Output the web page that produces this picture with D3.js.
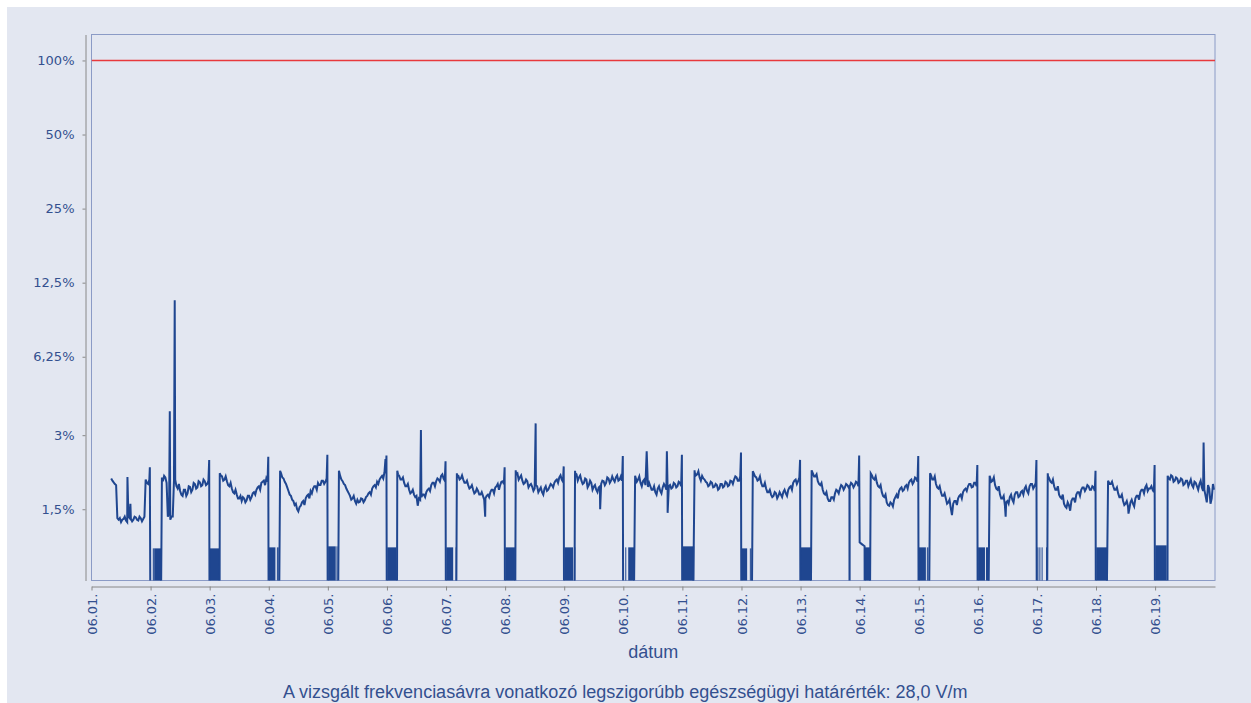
<!DOCTYPE html>
<html>
<head>
<meta charset="utf-8">
<script src="https://cdnjs.cloudflare.com/ajax/libs/d3/7.8.5/d3.min.js"></script>
<style>
  body { margin: 0; background: #fff; }
</style>
</head>
<body>
<div id="body"></div>
<script>
var year = 2015;
var dayLabels = ["06.01.", "06.02.", "06.03.", "06.04.", "06.05.", "06.06.", "06.07.", "06.08.", "06.09.", "06.10.",
  "06.11.", "06.12.", "06.13.", "06.14.", "06.15.", "06.16.", "06.17.", "06.18.", "06.19."];
var yTickValues = [100, 50, 25, 12.5, 6.25, 3, 1.5];
var yTickLabels = ["100%", "50%", "25%", "12,5%", "6,25%", "3%", "1,5%"];
var limitValue = 100;
var xTitle = "dátum";
var caption = "A vizsgált frekvenciasávra vonatkozó legszigorúbb egészségügyi határérték: 28,0 V/m";

// readings on the full hour, in % of the limit, one row per day (hour 0..23); null = no data, 0 = dropped out
var hourly = [
  [null, null, null, null, null, null, null, null, 2.00, 1.93, 1.88, 1.36, 1.33, 1.37, 1.35, 1.40, 1.37, 1.36, 1.39, 1.35, 1.38, 1.37, 1.98, 1.90],
  [0, 0, 0, 0, 0, 1.95, 2.02, 1.40, 1.36, 1.40, 1.98, 1.82, 1.78, 1.70, 1.80, 1.74, 1.85, 1.80, 1.90, 1.84, 1.93, 1.88, 1.95, 1.90],
  [0, 0, 0, 0, 0, 2.04, 1.98, 1.95, 1.86, 1.82, 1.74, 1.72, 1.66, 1.62, 1.66, 1.63, 1.70, 1.68, 1.76, 1.80, 1.86, 1.92, 1.96, 2.00],
  [0, 0, 0, 0, 0, 2.10, 2.00, 1.90, 1.78, 1.70, 1.62, 1.58, 1.47, 1.55, 1.62, 1.66, 1.72, 1.78, 1.82, 1.86, 1.92, 1.88, 1.96, 1.94],
  [0, 0, 0, 0, 0, 2.05, 1.95, 1.88, 1.78, 1.70, 1.66, 1.62, 1.64, 1.61, 1.65, 1.63, 1.70, 1.76, 1.82, 1.88, 1.94, 1.98, 2.05, 2.12],
  [0, 0, 0, 0, 0, 2.05, 1.98, 1.92, 1.86, 1.80, 1.76, 1.72, 1.70, 1.66, 1.68, 1.72, 1.76, 1.82, 1.88, 1.92, 1.95, 1.98, 2.05, 2.00],
  [0, 0, 0, 0, 0, 2.05, 2.00, 1.98, 1.92, 1.88, 1.84, 1.80, 1.76, 1.78, 1.72, 1.70, 1.66, 1.72, 1.76, 1.80, 1.84, 1.90, 1.88, 1.95],
  [0, 0, 0, 0, 0, 2.10, 2.02, 1.96, 1.92, 1.95, 1.88, 1.85, 1.82, 1.86, 1.80, 1.76, 1.82, 1.78, 1.85, 1.88, 1.92, 1.98, 2.02, 1.98],
  [0, 0, 0, 0, 0, 2.08, 2.02, 1.96, 1.92, 1.98, 1.88, 1.92, 1.85, 1.80, 1.84, 1.90, 1.95, 1.92, 2.00, 1.96, 1.98, 2.02, 1.96, 2.04],
  [0, 0, 0, 0, 0, 2.02, 1.98, 1.92, 1.95, 1.88, 1.85, 1.86, 1.80, 1.76, 1.82, 1.78, 1.84, 1.86, 1.80, 1.88, 1.84, 1.90, 1.86, 1.92],
  [0, 0, 0, 0, 0, 2.12, 2.08, 2.02, 2.05, 1.98, 1.92, 1.88, 1.92, 1.85, 1.88, 1.82, 1.90, 1.86, 1.92, 1.88, 1.95, 1.98, 2.02, 1.96],
  [0, 0, 0, 0, 0, 2.10, 2.02, 1.98, 1.92, 1.86, 1.82, 1.76, 1.72, 1.70, 1.74, 1.70, 1.72, 1.76, 1.74, 1.80, 1.86, 1.92, 1.98, 1.95],
  [0, 0, 0, 0, 0, 2.10, 2.04, 1.95, 1.88, 1.80, 1.72, 1.66, 1.62, 1.68, 1.74, 1.78, 1.82, 1.86, 1.84, 1.88, 1.86, 1.90, 1.88, 1.92],
  [1.10, 1.08, 1.06, 0, 0, 2.06, 1.98, 1.92, 1.84, 1.76, 1.68, 1.60, 1.55, 1.58, 1.64, 1.72, 1.78, 1.84, 1.80, 1.88, 1.92, 1.98, 1.94, 2.00],
  [0, 0, 0, 0, 0, 2.06, 1.98, 1.90, 1.82, 1.76, 1.70, 1.66, 1.60, 1.52, 1.58, 1.62, 1.66, 1.72, 1.76, 1.82, 1.86, 1.90, 1.85, 1.92],
  [0, 0, 0, 0, 0, 2.02, 1.96, 1.88, 1.80, 1.72, 1.66, 1.55, 1.62, 1.68, 1.64, 1.72, 1.76, 1.70, 1.78, 1.82, 1.78, 1.86, 1.90, 1.86],
  [0, 0, 0, 0, 0, 2.00, 1.92, 1.86, 1.80, 1.72, 1.66, 1.58, 1.52, 1.56, 1.62, 1.66, 1.72, 1.76, 1.80, 1.84, 1.82, 1.86, 1.80, 1.84],
  [0, 0, 0, 0, 0, 1.95, 1.90, 1.86, 1.80, 1.74, 1.68, 1.62, 1.58, 1.54, 1.60, 1.58, 1.66, 1.70, 1.76, 1.80, 1.84, 1.78, 1.82, 1.80],
  [0, 0, 0, 0, 0, 0, 1.98, 2.04, 1.96, 2.00, 1.94, 1.98, 1.90, 1.96, 1.92, 1.88, 1.94, 1.86, 1.90, 1.84, 1.80, 1.60, 1.82, 1.66]
];

// readings on the half hour (hour h + 30 min), same layout; null = no reading listed
var halfHour = [
  [null, null, null, null, null, null, null, null, 1.96, 1.90, 1.38, 1.38, 1.36, 1.40, 1.33, 1.38, 1.34, 1.40, 1.36, 1.40, 1.34, 1.40, 1.92, 1.98],
  [null, null, null, null, null, 2.05, 1.92, 1.45, 1.40, null, 1.86, 1.90, 1.72, 1.80, 1.70, 1.86, 1.76, 1.92, 1.82, 1.95, 1.86, 1.98, 1.88, 1.96],
  [null, null, null, null, 2.06, 1.96, 2.04, 1.88, 1.92, 1.76, 1.80, 1.66, 1.70, 1.68, 1.60, 1.70, 1.64, 1.74, 1.72, 1.84, 1.80, 1.94, 1.88, 1.94],
  [null, null, null, null, null, 2.02, 1.94, 1.84, 1.72, 1.64, 1.56, 1.50, 1.53, 1.60, 1.56, 1.70, 1.66, 1.74, 1.86, 1.80, 1.88, 1.96, 1.90, 2.00],
  [null, null, null, null, null, 1.98, 1.90, 1.82, 1.74, 1.64, 1.70, 1.58, 1.60, 1.66, 1.60, 1.68, 1.74, 1.72, 1.86, 1.84, 1.90, 2.02, 2.00, null],
  [null, null, null, null, 2.08, 1.98, 2.02, 1.86, 1.90, 1.74, 1.80, 1.68, null, 1.64, 1.72, 1.68, 1.80, 1.78, 1.92, 1.86, 2.00, 1.94, 2.08, 1.96],
  [null, null, null, null, 2.05, 1.98, 2.06, 1.92, 1.96, 1.82, 1.88, 1.74, 1.82, 1.72, 1.76, 1.64, 1.70, 1.68, 1.80, 1.74, 1.86, 1.80, 1.94, 1.90],
  [null, null, null, null, 2.08, 1.98, 2.06, 1.90, 1.98, 1.84, 1.90, 1.78, 1.88, 1.76, 1.84, 1.72, 1.86, 1.80, 1.90, 1.84, 1.96, 1.92, 2.06, 1.94],
  [null, null, null, null, 2.10, 1.96, 2.06, 1.90, 2.00, 1.84, 1.96, 1.80, 1.88, 1.76, 1.86, 1.96, 1.88, 2.02, 1.92, 2.04, 1.94, 2.06, 1.98, 1.96],
  [null, null, null, null, null, 1.94, 2.04, 1.86, 1.98, null, 1.92, 1.80, 1.86, 1.72, 1.86, 1.74, 1.90, 1.80, 1.86, 1.82, 1.92, 1.84, 1.94, 1.86],
  [null, null, null, null, null, 2.06, 2.14, 1.96, 2.00, 1.94, 1.86, 1.94, 1.84, 1.90, 1.80, 1.90, 1.84, 1.94, 1.86, 1.96, 1.90, 2.04, 1.96, 2.04],
  [null, null, null, null, null, 2.04, 1.96, 2.04, 1.86, 1.92, 1.76, 1.80, 1.68, 1.76, 1.66, 1.76, 1.68, 1.80, 1.70, 1.84, 1.80, 1.96, 1.90, 2.02],
  [null, null, null, null, null, 2.04, 2.08, 1.90, 1.92, 1.74, 1.76, 1.62, 1.68, 1.64, 1.80, 1.74, 1.88, 1.80, 1.90, 1.84, 1.92, 1.84, 1.94, 1.86],
  [1.09, 1.07, null, null, null, 2.00, 2.04, 1.86, 1.88, 1.70, 1.72, 1.56, 1.60, 1.54, 1.68, 1.66, 1.82, 1.78, 1.86, 1.82, 1.96, 1.90, 2.02, 1.94],
  [null, null, null, null, null, 1.98, 2.04, 1.84, 1.86, 1.70, 1.74, 1.58, 1.64, null, 1.62, 1.56, 1.70, 1.66, 1.80, 1.78, 1.90, 1.84, 1.92, 1.86],
  [null, null, null, null, null, 1.94, 2.02, 1.82, 1.86, 1.66, 1.70, 1.60, 1.58, 1.72, 1.60, 1.76, 1.68, 1.76, 1.72, 1.86, 1.74, 1.90, 1.82, 1.92],
  [null, null, null, null, 2.05, 1.94, 1.98, 1.80, 1.86, 1.68, 1.72, 1.54, 1.60, 1.48, 1.66, 1.60, 1.76, 1.70, 1.84, 1.78, 1.88, 1.80, 1.86, 1.78],
  [null, null, null, null, null, 1.90, 1.94, 1.80, 1.84, 1.68, 1.72, 1.56, 1.62, 1.50, 1.64, 1.54, 1.70, 1.64, 1.80, 1.74, 1.88, 1.82, 1.86, 1.76],
  [null, null, null, null, null, 2.00, 2.06, 1.94, 2.02, 1.92, 2.00, 1.88, 1.96, 1.86, 1.98, 1.84, 1.92, 1.80, 1.96, 1.78, 1.70, 1.88, 1.58, 1.90]
];

// single readings between those (spikes, dropout edges): [day, hour, value]
var extraReadings = [
  [0, 14.6, 2.03], [0, 15.8, 1.58], [0, 23.7, 2.22],
  [1, 4.6, 2.02], [1, 7.8, 3.75], [1, 9.5, 1.96], [1, 9.8, 10.6], [1, 23.8, 2.38],
  [2, 4.1, 2.10], [2, 23.8, 2.45],
  [3, 4.6, 2.15], [3, 23.8, 2.50],
  [4, 4.5, 2.15], [4, 23.4, 2.40], [4, 23.6, 2.10], [4, 23.8, 2.48],
  [5, 4.2, 2.15], [5, 12.5, 1.55], [5, 13.8, 3.15], [5, 23.8, 2.35],
  [6, 4.4, 2.10], [6, 15.9, 1.40], [6, 23.8, 2.22],
  [7, 4.3, 2.16], [7, 12.4, 3.35], [7, 23.8, 2.24],
  [8, 4.4, 2.15], [8, 14.6, 1.50], [8, 23.8, 2.47],
  [9, 4.8, 2.05], [9, 9.5, 2.58], [9, 17.7, 2.58], [9, 18.0, 1.45], [9, 23.8, 2.50],
  [10, 4.95, 2.16], [10, 23.8, 2.55],
  [11, 4.6, 2.14], [11, 23.8, 2.38],
  [12, 4.5, 2.16], [12, 19.85, 1.87], [12, 19.9, 0], [12, 19.95, 1.87], [12, 23.8, 2.48],
  [13, 2.1, 0], [13, 4.5, 2.10], [13, 23.8, 2.47],
  [14, 4.6, 2.10], [14, 13.5, 1.42], [14, 23.8, 2.27],
  [15, 4.8, 2.05], [15, 11.3, 1.40], [15, 23.8, 2.38],
  [16, 4.4, 2.10], [16, 23.8, 2.15],
  [17, 4.9, 1.96], [17, 13.2, 1.44], [17, 23.8, 2.27],
  [18, 5.1, 2.05], [18, 19.7, 2.80], [18, 23.9, 1.80]
];

// night dropouts, reading flickers between the level and zero: [day, fromHour, toHour, level]
var dropouts = [
  [1, 0.9, 1.0, 1.04], [1, 1.3, 1.4, 1.04], [1, 1.7, 4.4, 1.04],
  [2, 0.1, 4.0, 1.04],
  [3, 0.1, 2.7, 1.05], [3, 3.3, 3.5, 1.05], [3, 3.9, 4.1, 1.05],
  [4, 0.1, 3.2, 1.06], [4, 3.5, 3.8, 1.06],
  [5, 0.1, 3.9, 1.05],
  [6, 0.1, 2.9, 1.05], [6, 3.9, 4.1, 1.05],
  [7, 0.1, 4.0, 1.05],
  [8, 0.1, 3.6, 1.05], [8, 4.1, 4.3, 1.05],
  [9, 0.8, 1.0, 1.05], [9, 2.0, 4.4, 1.05],
  [10, 0.1, 4.8, 1.06],
  [11, 0.1, 2.3, 1.04], [11, 3.4, 3.6, 1.04], [11, 4.1, 4.3, 1.04],
  [12, 0.1, 4.3, 1.05],
  [13, 2.1, 4.4, 1.05],
  [14, 0.1, 2.9, 1.05], [14, 3.3, 3.5, 1.05], [14, 4.0, 4.2, 1.05],
  [15, 0.1, 2.9, 1.05], [15, 3.3, 4.6, 1.05],
  [16, 0.2, 0.5, 1.05], [16, 1.0, 1.4, 1.05], [16, 1.9, 2.3, 1.05], [16, 3.7, 4.1, 1.05],
  [17, 0.1, 4.8, 1.05],
  [18, 0.1, 4.7, 1.07]
];

var W = 1251, H = 703;
var plot = {left: 91.5, top: 34.5, right: 1215, bottom: 580.5};
var lineColor = "#1f4690";
var textColor = "#33508f";

var dayDates = dayLabels.map(function(s) {
  var p = s.split(".");
  return new Date(year, +p[0] - 1, +p[1]);
});
function at(day, hour) {
  return new Date(dayDates[0].getTime() + (day * 24 + hour) * 3600e3);
}

var points = [];
hourly.forEach(function(row, d) {
  row.forEach(function(v, h) { points.push({t: at(d, h), v: v}); });
});
halfHour.forEach(function(row, d) {
  row.forEach(function(v, h) { if (v !== null) points.push({t: at(d, h + 0.5), v: v}); });
});
extraReadings.forEach(function(e) { points.push({t: at(e[0], e[1]), v: e[2]}); });
points.sort(function(a, b) { return a.t - b.t; });

var svg = d3.select("#body")
  .append("svg")
  .attr("width", W)
  .attr("height", H);

svg.append("rect").attr("x", 7).attr("y", 7).attr("width", W - 7).attr("height", H - 7).attr("fill", "#e3e7f1");

var x = d3.scaleTime()
  .domain([dayDates[0], at(19, 0.33)])
  .range([plot.left, plot.right]);

var y = d3.scaleLog()
  .domain([0.77, 127.5])
  .range([plot.bottom, plot.top]);

var floorValue = 0.3;

svg.append("defs").append("clipPath").attr("id", "clip")
  .append("rect")
  .attr("x", plot.left).attr("y", plot.top)
  .attr("width", plot.right - plot.left).attr("height", plot.bottom - plot.top);

svg.append("rect")
  .attr("x", plot.left).attr("y", plot.top)
  .attr("width", plot.right - plot.left).attr("height", plot.bottom - plot.top)
  .attr("fill", "#e3e7f1")
  .attr("stroke", "#8b9bc6")
  .attr("stroke-width", 1);

var chart = svg.append("g").attr("clip-path", "url(#clip)");

chart.append("line")
  .attr("x1", plot.left).attr("x2", plot.right)
  .attr("y1", y(limitValue)).attr("y2", y(limitValue))
  .attr("stroke", "#e8393c")
  .attr("stroke-width", 1.6);

chart.selectAll("rect.drop")
  .data(dropouts)
  .enter().append("rect")
  .attr("class", "drop")
  .attr("x", function(d) { return x(at(d[0], d[1])); })
  .attr("width", function(d) { return Math.max(1, x(at(d[0], d[2])) - x(at(d[0], d[1]))); })
  .attr("y", function(d) { return y(d[3]); })
  .attr("height", function(d) { return plot.bottom - y(d[3]) + 2; })
  .attr("fill", lineColor);

var line = d3.line()
  .defined(function(p) { return p.v !== null; })
  .x(function(p) { return x(p.t); })
  .y(function(p) { return y(p.v > 0 ? p.v : floorValue); });

chart.append("path")
  .datum(points)
  .attr("d", line)
  .attr("fill", "none")
  .attr("stroke", lineColor)
  .attr("stroke-width", 2)
  .attr("stroke-linejoin", "miter");

// y axis
var leftAxis = d3.axisLeft(y)
  .tickValues(yTickValues)
  .tickFormat(function(d, i) { return yTickLabels[i]; })
  .tickSizeInner(3)
  .tickSizeOuter(0)
  .tickPadding(8);

var gy = svg.append("g")
  .attr("transform", "translate(85.5,0)")
  .call(leftAxis);
gy.select(".domain").attr("stroke", "#888");
gy.selectAll(".tick line").attr("stroke", "#888");
gy.selectAll(".tick text").attr("font-size", 13).attr("fill", textColor)
  .attr("font-family", "DejaVu Sans, sans-serif");

// x axis
var bottomAxis = d3.axisBottom(x)
  .tickValues(dayDates)
  .tickFormat(function(d, i) { return dayLabels[i]; })
  .tickSizeInner(4)
  .tickSizeOuter(0);

var gx = svg.append("g")
  .attr("transform", "translate(0,586.5)")
  .call(bottomAxis);
gx.select(".domain").attr("stroke", "#888");
gx.selectAll(".tick line").attr("stroke", "#888");
gx.selectAll(".tick text")
  .attr("font-size", 13)
  .attr("font-family", "DejaVu Sans, sans-serif")
  .attr("fill", textColor)
  .attr("text-anchor", "end")
  .attr("transform", "rotate(-90)")
  .attr("x", -7)
  .attr("y", 0)
  .attr("dy", "0.35em");

svg.append("text")
  .attr("x", (plot.left + plot.right) / 2)
  .attr("y", 658)
  .attr("text-anchor", "middle")
  .attr("font-family", "Liberation Sans, Arial, sans-serif")
  .attr("font-size", 18)
  .attr("fill", textColor)
  .text(xTitle);

svg.append("text")
  .attr("x", (plot.left + plot.right) / 2 - 28)
  .attr("y", 698)
  .attr("text-anchor", "middle")
  .attr("font-family", "Liberation Sans, Arial, sans-serif")
  .attr("font-size", 18)
  .attr("fill", textColor)
  .text(caption);
</script>
</body>
</html>
